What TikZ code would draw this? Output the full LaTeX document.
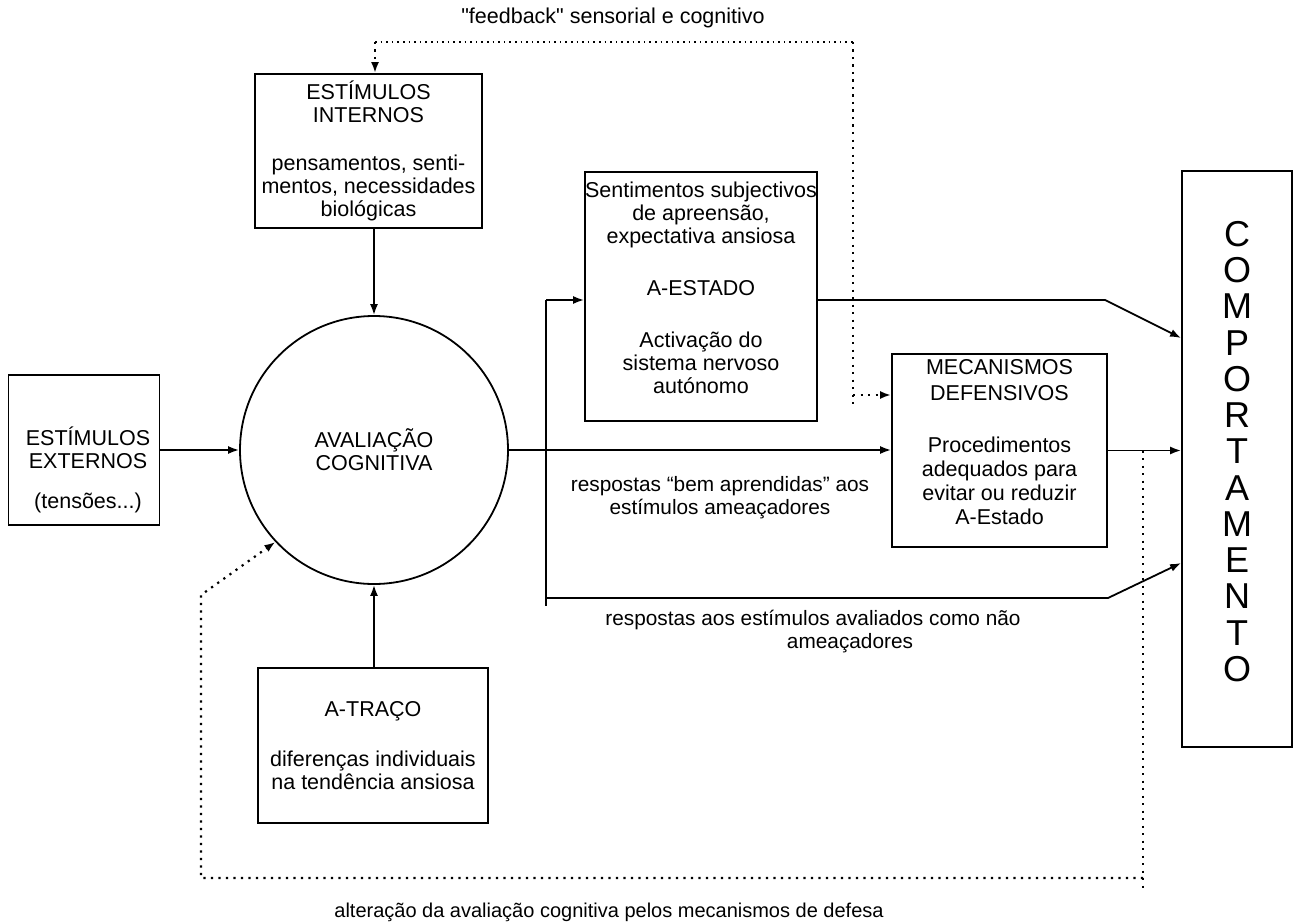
\documentclass[tikz,border=0pt]{standalone}
\usepackage{fontspec}
\setmainfont{Liberation Sans}[Ligatures=TeXOff]
\usetikzlibrary{arrows.meta,calc}
\begin{document}
\begin{tikzpicture}[x=1pt,y=-1pt,
  box/.style={draw, line width=1.8pt, inner sep=0pt},
  txt/.style={font=\fontsize{21.5}{23}\selectfont, align=center, inner sep=0pt},
  ln/.style={line width=1.8pt},
  arr/.style={ln, -{Latex[length=11pt,width=8pt]}},
  dots/.style={line width=2.2pt, dash pattern=on 2.2pt off 5.3pt},
  lightdots/.style={line width=1.4pt, dash pattern=on 1.6pt off 4pt},
  darr/.style={dots, -{Latex[length=11pt,width=8pt]}},
  ldarr/.style={lightdots, -{Latex[length=11pt,width=8pt]}}]
\useasboundingbox (0,0) rectangle (1297,923);

% boxes
\node[box, minimum width=151pt, minimum height=150pt] (ee) at (84,450) {};
\node[txt] (eet) at (88,470) {ESTÍMULOS\\EXTERNOS\\[17pt](tensões...)};

\node[draw, circle, line width=1.8pt, minimum size=268pt, txt] (av) at (374,450) {AVALIAÇÃO\\COGNITIVA};

\node[box, txt, minimum width=227pt, minimum height=154pt] (ei) at (368.5,151) {ESTÍMULOS\\INTERNOS\\[25pt]pensamentos, senti-\\mentos, necessidades\\biológicas};

\node[box, minimum width=232pt, minimum height=249pt] (ae) at (701,296.5) {};
\node[txt] (aet) at (701,288) {Sentimentos subjectivos\\de apreensão,\\expectativa ansiosa\\[29pt]A-ESTADO\\[29pt]Activação do\\sistema nervoso\\autónomo};

\node[box, minimum width=215pt, minimum height=193pt] (md) at (999.5,450.5) {};
\node[txt] (mdt) at (999.5,442) {MECANISMOS\\[3pt]DEFENSIVOS\\[29pt]Procedimentos\\[1pt]adequados para\\[1pt]evitar ou reduzir\\[1pt]A-Estado};

\node[box, txt, minimum width=230pt, minimum height=155pt] (at) at (373,745.5) {A-TRAÇO\\[27pt]diferenças individuais\\na tendência ansiosa};

\node[box, minimum width=110pt, minimum height=576pt] (co) at (1237,459) {};
\node[font=\fontsize{36}{36.25}\selectfont, align=center, inner sep=0pt] (cot) at (1237,451.5) {C\\O\\M\\P\\O\\R\\T\\A\\M\\E\\N\\T\\O};

% labels
\node[txt] (fbl) at (613,18) {"feedback" sensorial e cognitivo};
\node[txt, font=\fontsize{20.8}{23}\selectfont] (rb) at (720,498) {respostas “bem aprendidas” aos\\estímulos ameaçadores};
\node[txt, font=\fontsize{20.8}{23}\selectfont] (rn1) at (813,620) {respostas aos estímulos avaliados como não};
\node[txt, font=\fontsize{20.8}{23}\selectfont] (rn2) at (850,643) {ameaçadores};
\node[txt, font=\fontsize{20}{23}\selectfont] (alt) at (609,912) {alteração da avaliação cognitiva pelos mecanismos de defesa};

% solid connectors
\draw[arr] (ee.east) -- (av.west);
\draw[arr] (ei.south -| av.north) -- (av.north);
\draw[arr] (at.north -| av.south) -- (av.south);
\draw[arr] (av.east) -- (av.east -| md.west);

\coordinate (b0) at (546,606);
\coordinate (b1) at (546,300);
\coordinate (b2) at (546,598);
\coordinate (b3) at (1108,598);
\coordinate (b4) at (1105,300);
\coordinate (k1) at (0,338);
\coordinate (k3) at (0,563);
\draw[ln] (b1) -- (b0);
\draw[arr] (b1) -- (b1 -| ae.west);
\draw[arr] (ae.east |- b4) -- (b4) -- (co.west |- k1);
\draw[arr] (b2) -- (b3) -- (co.west |- k3);
\draw[arr] (md.east) -- (md.east -| co.west);

% dotted feedback loops
\coordinate (f1) at (375,42);
\coordinate (f2) at (853,42);
\coordinate (f3) at (853,407);
\coordinate (f4) at (853,395);
\draw[lightdots] (f1) -- (f2);
\draw[dots] (f2) -- (f3);
\draw[darr] (f1) -- (f1 |- ei.north);
\draw[darr] (f4) -- (f4 -| md.west);

\coordinate (d1) at (1143,450.5);
\coordinate (d2) at (1143,888);
\coordinate (d3) at (1143,878);
\coordinate (d4) at (201,878);
\coordinate (d5) at (201,595);
\draw[dots] (d1) -- (d2);
\draw[darr] (d3) -- (d4) -- (d5) -- (av.223.5);
\end{tikzpicture}
\end{document}
